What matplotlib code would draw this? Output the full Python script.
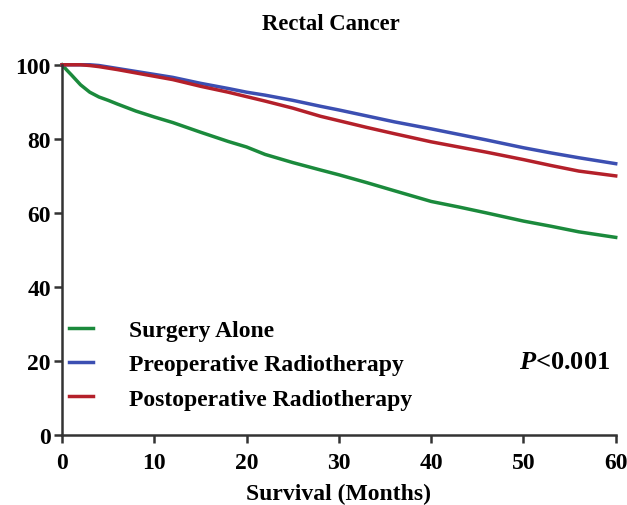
import numpy as np
import matplotlib.pyplot as plt

plt.rcParams['font.family'] = ['Liberation Serif', 'DejaVu Serif']
plt.rcParams['font.weight'] = 'bold'
plt.rcParams['mathtext.fontset'] = 'custom'
plt.rcParams['mathtext.it'] = 'Liberation Serif:italic:bold'
plt.rcParams['mathtext.rm'] = 'Liberation Serif:bold'

months = [0, 0.5, 1, 2, 3, 4, 5, 6, 8, 10, 12, 15, 18, 20, 22, 25, 28, 30,
          33, 36, 40, 43, 46, 50, 53, 56, 60]
surgery = [100, 98.6, 97.3, 94.6, 92.6, 91.3, 90.4, 89.4, 87.5, 85.9, 84.4,
           81.8, 79.3, 77.8, 75.8, 73.6, 71.6, 70.3, 68.2, 66.0, 63.1, 61.6,
           60.0, 57.8, 56.4, 54.9, 53.4]
preop = [100, 100, 100, 100, 100, 99.8, 99.4, 99.0, 98.2, 97.4, 96.6, 95.0,
         93.6, 92.6, 91.8, 90.4, 88.8, 87.8, 86.2, 84.6, 82.7, 81.2, 79.7,
         77.6, 76.2, 74.9, 73.3]
postop = [100, 100, 100, 100, 99.8, 99.5, 99.1, 98.7, 97.8, 96.9, 96.0, 94.2,
          92.6, 91.4, 90.2, 88.3, 86.1, 84.9, 83.1, 81.4, 79.2, 77.8, 76.4,
          74.4, 72.8, 71.3, 70.0]

fig = plt.figure(figsize=(6.27, 5.06), dpi=100)
ax = fig.add_axes([0.099, 0.138, 0.883, 0.732])

ax.plot(months, surgery, color='#1b8a3c', lw=2.5, label='Surgery Alone', clip_on=False)
ax.plot(months, preop, color='#3c4fb2', lw=2.5, label='Preoperative Radiotherapy', clip_on=False)
ax.plot(months, postop, color='#b4202a', lw=2.5, label='Postoperative Radiotherapy', clip_on=False)

ax.set_xlim(0, 60)
ax.set_ylim(0, 100)
ax.set_xticks(np.arange(0, 61, 10))
ax.set_yticks(np.arange(0, 101, 20))
for s in ['top', 'right']:
    ax.spines[s].set_visible(False)
for s in ['left', 'bottom']:
    ax.spines[s].set_linewidth(1.8)
    ax.spines[s].set_color('#333333')
ax.tick_params(direction='out', length=6, width=1.8, color='#333333',
               labelsize=17, pad=2)
ax.tick_params(axis='x', pad=6)

ax.set_title('Rectal Cancer', fontsize=16.3, fontweight='bold', x=0.486, pad=26)
ax.set_xlabel('Survival (Months)', fontsize=17, fontweight='bold', labelpad=7)

ax.legend(loc='lower left', bbox_to_anchor=(-0.013, 0.031), frameon=False,
          handlelength=1.0, handletextpad=1.55, labelspacing=0.53,
          borderaxespad=0.2, prop={'weight': 'bold', 'size': 17})

ax.text(59.4, 20, r'$P$<0.001', fontsize=19, ha='right', va='center')

fig.savefig('out.png', dpi=100)
